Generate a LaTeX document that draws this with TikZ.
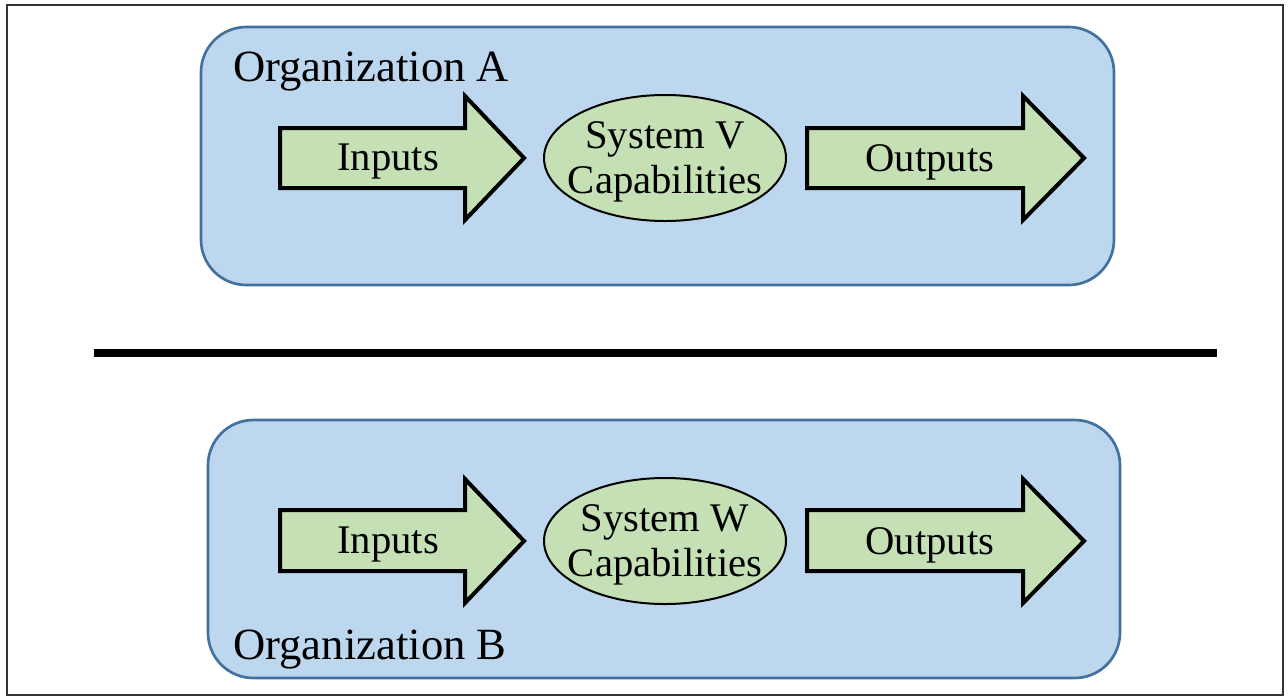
\documentclass[tikz,border=0pt]{standalone}
\usepackage{fontspec}
\setmainfont{Liberation Serif}
\usetikzlibrary{shapes.geometric}
\definecolor{boxfill}{HTML}{BDD7EE}
\definecolor{boxline}{HTML}{41719C}
\definecolor{grn}{HTML}{C5E0B4}
\definecolor{frame}{HTML}{333333}
\tikzset{
  orgbox/.style={draw=boxline, fill=boxfill, line width=2pt, rounded corners=34pt},
  bigarrow/.style={draw=black, fill=grn, line width=3pt, line join=miter},
  lbl/.style={font=\fontsize{30.5}{34}\selectfont, inner sep=0pt},
  orglbl/.style={font=\fontsize{33.5}{38}\selectfont, inner sep=0pt, anchor=base west},
  sysell/.style={ellipse, draw=black, fill=grn, line width=1.5pt, minimum width=181.5pt, minimum height=94.5pt, inner sep=0pt},
  systxt/.style={align=center, inner sep=0pt, font=\fontsize{30.5}{34}\selectfont}
}
\begin{document}
\begin{tikzpicture}[x=0.75pt,y=-0.75pt]
\useasboundingbox (0,0) rectangle (1288,697);
% outer frame
\draw[frame, line width=1.8pt] (7,5) rectangle (1283,695);
% separator
\draw[black, line width=6.5pt] (94,353) -- (1217,353);
% boxes
\draw[orgbox] (201,27) rectangle (1114,285);
\draw[orgbox] (208,420) rectangle (1120,678);
% arrows top
\draw[bigarrow] (280,128) -- (465,128) -- (465,96) -- (524,158) -- (465,220) -- (465,188) -- (280,188) -- cycle;
\draw[bigarrow] (807,128) -- (1023,128) -- (1023,96) -- (1084,158) -- (1023,220) -- (1023,188) -- (807,188) -- cycle;
% arrows bottom
\draw[bigarrow] (280,510) -- (465,510) -- (465,479) -- (524,541) -- (465,603) -- (465,571) -- (280,571) -- cycle;
\draw[bigarrow] (807,510) -- (1023,510) -- (1023,479) -- (1084,541) -- (1023,603) -- (1023,571) -- (807,571) -- cycle;
% labels
\node[orglbl] (orgA) at (233,81) {Organization A};
\node[orglbl] (orgB) at (233,659) {Organization B};
\node[lbl] (inA) at (388,162) {Inputs};
\node[lbl] (outA) at (930,162) {Outputs};
\node[lbl] (inB) at (388,545) {Inputs};
\node[lbl] (outB) at (930,545) {Outputs};
\node[sysell] (sysV) at (665,158) {};
\node[systxt] (sysVt) at (665,162) {System V\\Capabilities};
\node[sysell] (sysW) at (665,541) {};
\node[systxt] (sysWt) at (665,545) {System W\\Capabilities};
\end{tikzpicture}
\end{document}
